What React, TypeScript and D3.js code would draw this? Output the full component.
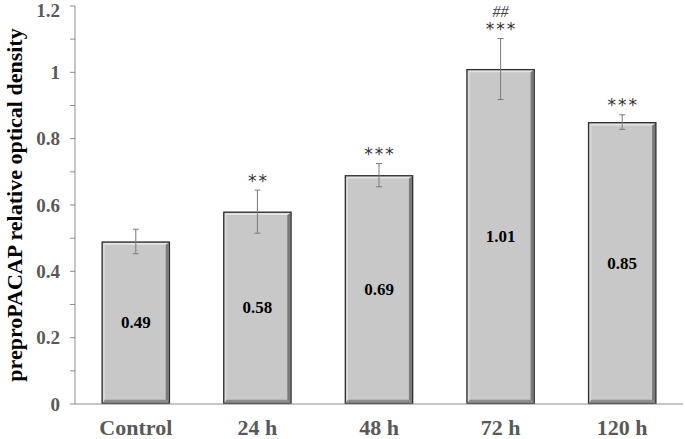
import React from "react";
import * as d3 from "d3";

const categories = ["Control", "24 h", "48 h", "72 h", "120 h"];
const values = [0.49, 0.58, 0.69, 1.01, 0.85];
const errors = [0.037, 0.065, 0.035, 0.092, 0.022];
const stars = ["", "**", "***", "***", "***"];
const hashes = ["", "", "", "##", ""];
const yTicks = [0, 0.2, 0.4, 0.6, 0.8, 1, 1.2];
const yMinorTicks = [0, 0.1, 0.2, 0.3, 0.4, 0.5, 0.6, 0.7, 0.8, 0.9, 1.0, 1.1, 1.2];

const W = 685;
const H = 439;
const left = 75;
const right = 683;
const top = 6;
const bottom = 404;

export default function App() {
  const x = d3.scaleBand<string>().domain(categories).range([left, right]).paddingInner(0.437).paddingOuter(0.2185);
  const y = d3.scaleLinear().domain([0, 1.2]).range([bottom, top]);
  const bw = x.bandwidth();
  const serif = "'Liberation Serif', 'Times New Roman', serif";
  const axisColor = "#8c8c8c";
  const labelColor = "#595959";

  return (
    <svg width={W} height={H} style={{ position: "absolute", left: 0, top: 0, background: "#fff" }} fontFamily={serif}>
      <rect x={0} y={0} width={W} height={H} fill="#fff" />
      {categories.map((c, i) => {
        const x0 = x(c)!;
        const y0 = y(values[i]);
        const h = bottom - y0;
        const x1 = x0 + bw;
        const t = 1.3;
        return (
          <g key={c}>
            <rect x={x0} y={y0} width={bw} height={h} fill="#c8c8c8" />
            <polygon points={`${x0 + t},${y0 + t} ${x1 - t},${y0 + t} ${x1 - t - 2},${y0 + t + 2} ${x0 + t + 2},${y0 + t + 2}`} fill="#e4e4e4" />
            <polygon points={`${x0 + t},${y0 + t} ${x0 + t + 2},${y0 + t + 2} ${x0 + t + 2},${bottom - t - 3} ${x0 + t},${bottom - t}`} fill="#dadada" />
            <polygon points={`${x1 - t},${y0 + t} ${x1 - t},${bottom - t} ${x1 - t - 3},${bottom - t - 3} ${x1 - t - 3},${y0 + t + 2}`} fill="#7a7a7a" />
            <polygon points={`${x0 + t},${bottom - t} ${x1 - t},${bottom - t} ${x1 - t - 3},${bottom - t - 3} ${x0 + t + 2},${bottom - t - 3}`} fill="#8c8c8c" />
            <rect x={x0 + 0.6} y={y0 + 0.6} width={bw - 1.2} height={h - 1.2} fill="none" stroke="#2e2e2e" strokeWidth={1.3} />
            <text x={x0 + bw / 2} y={(y0 + bottom) / 2} textAnchor="middle" dominantBaseline="central" fontSize={17} fontWeight="bold" fill="#000">
              {values[i].toFixed(2)}
            </text>
          </g>
        );
      })}
      {categories.map((c, i) => {
        const cx = x(c)! + bw / 2;
        const yt = y(values[i] + errors[i]);
        const yb = y(values[i] - errors[i]);
        return (
          <g key={"e" + c} stroke="#7a7a7a" strokeWidth={1}>
            <line x1={cx} x2={cx} y1={yt} y2={yb} />
            <line x1={cx - 3} x2={cx + 3} y1={yt} y2={yt} />
            <line x1={cx - 3} x2={cx + 3} y1={yb} y2={yb} />
          </g>
        );
      })}
      {categories.map((c, i) => {
        const cx = x(c)! + bw / 2;
        const yt = y(values[i] + errors[i]);
        return (
          <g key={"s" + c}>
            {stars[i] && (
              <text x={cx + 1} y={yt - 9.5} textAnchor="middle" dominantBaseline="central" fontFamily="'DejaVu Sans', sans-serif" fontSize={17} letterSpacing={2} fill="#333">
                {stars[i]}
              </text>
            )}
            {hashes[i] && (
              <text x={cx} y={yt - 27} textAnchor="middle" dominantBaseline="central" fontSize={16} fontStyle="italic" fill="#444">
                {hashes[i]}
              </text>
            )}
          </g>
        );
      })}
      <line x1={left} x2={left} y1={top} y2={bottom} stroke={axisColor} strokeWidth={1} />
      {yMinorTicks.map((v) => (
        <line key={"m" + v} x1={left - 5} x2={left} y1={y(v)} y2={y(v)} stroke={axisColor} strokeWidth={1} />
      ))}
      {yTicks.map((v) => (
        <text key={"t" + v} x={60} y={Math.max(y(v), 10)} textAnchor="end" dominantBaseline="central" fontSize={19} fontWeight="bold" fill={labelColor}>
          {String(v)}
        </text>
      ))}
      <line x1={left} x2={right} y1={bottom} y2={bottom} stroke={axisColor} strokeWidth={1} />
      {categories.map((c) => (
        <text key={"c" + c} x={x(c)! + bw / 2} y={435} textAnchor="middle" fontSize={22} fontWeight="bold" fill={labelColor}>
          {c}
        </text>
      ))}
      <text transform={`translate(22, 205) rotate(-90)`} textAnchor="middle" fontSize={22} fontWeight="bold" fill="#000">
        preproPACAP relative optical density
      </text>
    </svg>
  );
}
